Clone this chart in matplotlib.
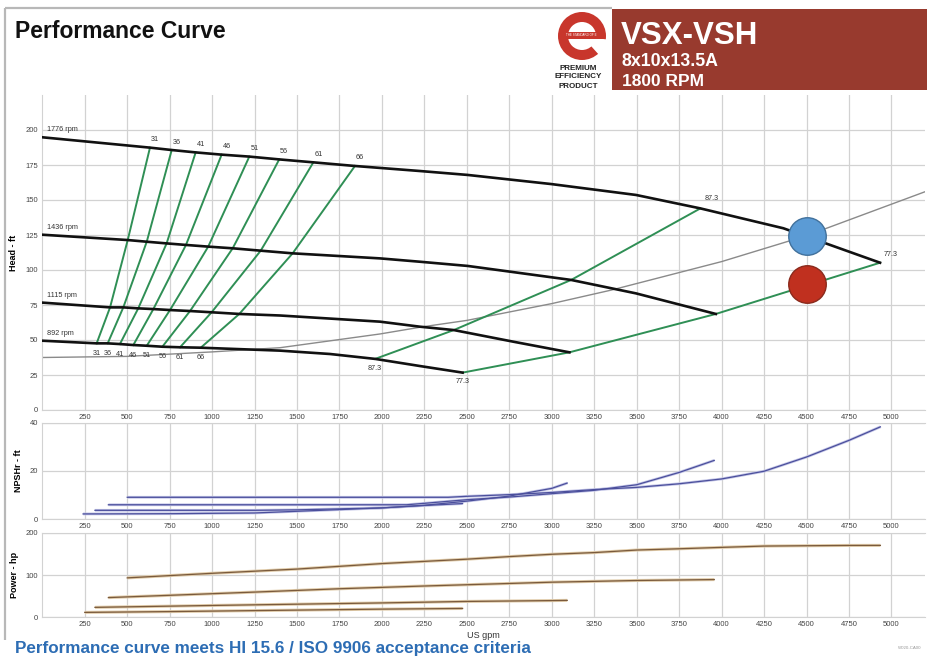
import matplotlib
matplotlib.use("Agg")
import matplotlib.pyplot as plt
from matplotlib.patches import Circle, Rectangle, Wedge

plt.rcParams['font.family'] = ['Liberation Sans', 'DejaVu Sans']

# ---------------- head / capacity curves (US gpm, ft) ----------------
speed_labels = ["1776 rpm", "1436 rpm", "1115 rpm", "892 rpm"]

q_1776 = [0, 634, 762, 903, 1056, 1219, 1395, 1596, 1841, 2224, 2505, 2996, 3496, 3875, 4364, 4933]
h_1776 = [194.8, 187.4, 185.7, 184.0, 182.4, 181.0, 179.0, 176.9, 174.3, 170.7, 167.9, 161.4, 153.6, 144.0, 129.8, 105.2]

q_1436 = [0, 503, 615, 732, 846, 977, 1121, 1286, 1474, 1988, 2224, 2505, 3114, 3496, 3966]
h_1436 = [125.2, 121.4, 120.2, 119.0, 117.9, 116.7, 115.5, 113.8, 111.9, 108.3, 105.9, 102.9, 92.9, 83.3, 68.6]

q_1115 = [0, 399, 477, 565, 654, 752, 870, 997, 1160, 1400, 1988, 2224, 2423, 2773, 3104]
h_1115 = [76.7, 73.3, 73.3, 72.6, 72.1, 71.4, 70.7, 69.8, 68.6, 67.5, 63.1, 59.5, 57.1, 48.8, 41.2]

q_892 = [0, 320, 385, 457, 536, 615, 707, 811, 933, 1400, 1694, 1960, 2224, 2475]
h_892 = [49.5, 47.6, 47.6, 47.1, 46.4, 45.9, 45.2, 44.8, 44.5, 42.4, 40.0, 36.5, 31.4, 26.7]

# iso-efficiency lines: points on the 892, 1115, 1436 and 1776 rpm curves
eff_labels = ["31", "36", "41", "46", "51", "56", "61", "66"]
eff_q = [
    [320, 399, 503, 634],
    [385, 477, 615, 762],
    [457, 565, 732, 903],
    [536, 654, 846, 1056],
    [615, 752, 977, 1219],
    [707, 870, 1121, 1395],
    [811, 997, 1286, 1596],
    [933, 1160, 1474, 1841],
]
eff_h = [
    [47.6, 73.3, 121.4, 187.4],
    [47.6, 73.3, 120.2, 185.7],
    [47.1, 72.6, 119.0, 184.0],
    [46.4, 72.1, 117.9, 182.4],
    [45.9, 71.4, 116.7, 181.0],
    [45.2, 70.7, 115.5, 179.0],
    [44.8, 69.8, 113.8, 176.9],
    [44.5, 68.6, 111.9, 174.3],
]

# best-efficiency line (87.3 %) and end-of-curve line (77.3 %)
bep_label = "87.3"
bep_q = [1960, 2423, 3114, 3875]
bep_h = [36.5, 57.1, 92.9, 144.0]
eoc_label = "77.3"
eoc_q = [2475, 3104, 3966, 4933]
eoc_h = [26.7, 41.2, 68.6, 105.2]

# system curve
sys_q = [0, 500, 1000, 1400, 1988, 2243, 2500, 3000, 3352, 4000, 4500, 5200]
sys_h = [37.5, 38.3, 41.5, 44.5, 54.3, 59.5, 64.0, 76.0, 85.7, 106.0, 124.5, 156.0]

# duty points
duty_q = [4500, 4500]
duty_h = [124.5, 90.0]
duty_face = ["#5b9bd5", "#c0301f"]
duty_edge = ["#41719c", "#8a2a1c"]

# ---------------- NPSHr (ft) ----------------
npsh_q = [
    [500, 2390, 2500, 2750, 3000, 3250, 3500, 3750, 4000, 4250, 4500, 4750, 4935],
    [389, 2145, 2250, 2500, 2750, 3000, 3250, 3500, 3750, 3957],
    [310, 1250, 1500, 2000, 2250, 2500, 2750, 3000, 3091],
    [240, 750, 1250, 1500, 2000, 2250, 2475],
]
npsh_v = [
    [9.0, 9.0, 9.4, 10.1, 11.0, 12.2, 13.1, 14.6, 16.6, 19.8, 25.7, 32.6, 38.2],
    [5.9, 5.9, 6.5, 8.0, 9.1, 10.5, 11.9, 14.2, 19.3, 24.3],
    [3.6, 3.6, 3.8, 4.6, 5.7, 7.4, 9.5, 12.7, 14.9],
    [2.1, 2.2, 2.5, 3.2, 4.6, 5.6, 6.4],
]

# ---------------- power (hp) ----------------
pow_q = [
    [500, 1000, 1500, 2000, 2500, 2750, 3000, 3250, 3500, 3750, 4000, 4250, 4500, 4750, 4935],
    [389, 750, 1250, 1750, 2250, 2500, 3000, 3500, 3957],
    [310, 1000, 1500, 2000, 2500, 3000, 3091],
    [250, 750, 1500, 2000, 2475],
]
pow_v = [
    [93.2, 104, 114, 127, 137.4, 143.5, 149, 153, 159, 162, 165.3, 168.4, 169.2, 169.9, 170],
    [46.6, 52, 59.6, 67.5, 74, 77, 83, 87, 89.2],
    [23.5, 28, 31, 34, 37.5, 39.5, 40],
    [11.6, 13.5, 17, 19.3, 20.9],
]

x_ticks = list(range(250, 5001, 250))

W, H = 927, 656
fig = plt.figure(figsize=(W / 100, H / 100), dpi=100)
fig.patch.set_facecolor("white")

X0, XR = 42.3, 925.4      # pixel extent of the plotting area
QMAX = 5200


def axes_px(top, bottom):
    return fig.add_axes([X0 / W, (H - bottom) / H, (XR - X0) / W, (bottom - top) / H])


# overlay in pixel coordinates for header, frame and footer
ov = fig.add_axes([0, 0, 1, 1])
ov.set_xlim(0, W)
ov.set_ylim(H, 0)
ov.axis("off")

ov.plot([5, 612], [8, 8], color="#b8b8b8", lw=1.6, solid_capstyle="butt")
ov.plot([5, 5], [8, 640], color="#b8b8b8", lw=1.6, solid_capstyle="butt")

ov.text(15, 31, "Performance Curve", fontsize=16.5, fontweight="bold", color="#111111",
        ha="left", va="center")

ov.add_patch(Rectangle((612, 9), 315, 81, facecolor="#983a2e", edgecolor="none"))
ov.text(621, 36, "VSX-VSH", fontsize=22.5, fontweight="bold", color="white", ha="left", va="center")
ov.text(622, 62, "8x10x13.5A", fontsize=12.8, fontweight="bold", color="white", ha="left", va="center")
ov.text(622, 82, "1800 RPM", fontsize=12.5, fontweight="bold", color="white", ha="left", va="center")

# logo
cx, cy = 582, 36
ov.add_patch(Circle((cx, cy), 24, facecolor="#c8362c", edgecolor="none"))
ov.add_patch(Circle((cx, cy), 14, facecolor="white", edgecolor="none"))
ov.add_patch(Wedge((cx, cy), 25, 8, 48, facecolor="white", edgecolor="none"))
ov.add_patch(Rectangle((cx - 23, cy - 4), 46, 7, facecolor="#c8362c", edgecolor="none"))
ov.text(cx - 1, cy - 0.5, "THE STANDARD OF E", fontsize=2.2, color="white", ha="center", va="center")
for i, word in enumerate(["PREMIUM", "EFFICIENCY", "PRODUCT"]):
    ov.text(578, 68 + 9 * i, word, fontsize=5.8, fontweight="bold", color="#222222",
            ha="center", va="center")

ov.text(15, 648, "Performance curve meets HI 15.6 / ISO 9906 acceptance criteria",
        fontsize=12.3, fontweight="bold", color="#2d6db4", ha="left", va="center")
ov.text(910, 648, "W020-CA00", fontsize=3.2, color="#999999", ha="center", va="center")

grid_c = "#d2d2d2"


def style(ax, ymax, yticks, top_spine):
    ax.set_xlim(0, QMAX)
    ax.set_ylim(0, ymax)
    ax.set_xticks(x_ticks)
    ax.set_yticks(yticks)
    ax.grid(True, color=grid_c, lw=0.9)
    ax.set_axisbelow(True)
    ax.tick_params(length=0, labelsize=5.5, labelcolor="#444444", pad=3)
    for s in ["left", "bottom", "right"]:
        ax.spines[s].set_color(grid_c)
    ax.spines["right"].set_visible(False)
    ax.spines["top"].set_visible(top_spine)
    ax.spines["top"].set_color(grid_c)
    ax.set_facecolor("none")


# ---------------- head axes ----------------
axh = axes_px(95, 410)
style(axh, 225, list(range(0, 201, 25)), False)
axh.set_ylabel("Head - ft", fontsize=6.5, fontweight="bold", labelpad=5)

axh.plot(sys_q, sys_h, color="#8a8a8a", lw=1.0, zorder=2)

for q, h in zip(eff_q, eff_h):
    axh.plot(q, h, color="#2f8f55", lw=1.4, zorder=3)
axh.plot(bep_q, bep_h, color="#2f8f55", lw=1.4, zorder=3)
axh.plot(eoc_q, eoc_h, color="#2f8f55", lw=1.4, zorder=3)

curves = [(q_1776, h_1776), (q_1436, h_1436), (q_1115, h_1115), (q_892, h_892)]
for (q, h), lab in zip(curves, speed_labels):
    axh.plot(q, h, color="#111111", lw=1.9, zorder=4)
    axh.annotate(lab, (q[0], h[0]), xytext=(5, 4), textcoords="offset pixels",
                 fontsize=5.2, color="#333333", ha="left", va="bottom")

for lab, q, h in zip(eff_labels, eff_q, eff_h):
    axh.annotate(lab, (q[-1], h[-1]), xytext=(5, 8), textcoords="offset pixels",
                 fontsize=5.2, color="#333333", ha="center", va="center")
    axh.annotate(lab, (q[0], h[0]), xytext=(0, -10), textcoords="offset pixels",
                 fontsize=5.2, color="#333333", ha="center", va="center")

axh.annotate(bep_label, (bep_q[-1], bep_h[-1]), xytext=(11, 10), textcoords="offset pixels",
             fontsize=5.2, color="#333333", ha="center", va="center")
axh.annotate(bep_label, (bep_q[0], bep_h[0]), xytext=(0, -10), textcoords="offset pixels",
             fontsize=5.2, color="#333333", ha="center", va="center")
axh.annotate(eoc_label, (eoc_q[-1], eoc_h[-1]), xytext=(11, 8), textcoords="offset pixels",
             fontsize=5.2, color="#333333", ha="center", va="center")
axh.annotate(eoc_label, (eoc_q[0], eoc_h[0]), xytext=(0, -9), textcoords="offset pixels",
             fontsize=5.2, color="#333333", ha="center", va="center")

for q, h, fc, ec in zip(duty_q, duty_h, duty_face, duty_edge):
    axh.plot([q], [h], marker="o", ms=27, mfc=fc, mec=ec, mew=1.0, zorder=6)

# ---------------- NPSHr axes ----------------
axn = axes_px(422.5, 519)
style(axn, 40, [0, 20, 40], True)
axn.set_ylabel("NPSHr - ft", fontsize=6.5, fontweight="bold", labelpad=5)
for q, v in zip(npsh_q, npsh_v):
    axn.plot(q, v, color="#c3c5e6", lw=2.0, zorder=2, solid_capstyle="butt")
    axn.plot(q, v, color="#4b4f9c", lw=0.9, zorder=3)

# ---------------- power axes ----------------
axp = axes_px(532.7, 617.3)
style(axp, 200, [0, 100, 200], True)
axp.set_ylabel("Power - hp", fontsize=6.5, fontweight="bold", labelpad=5)
axp.set_xlabel("US gpm", fontsize=6.5, color="#333333", labelpad=2)
for q, v in zip(pow_q, pow_v):
    axp.plot(q, v, color="#e0cba9", lw=2.2, zorder=2, solid_capstyle="butt")
    axp.plot(q, v, color="#7a5a3c", lw=0.9, zorder=3)

fig.savefig("out.png", dpi=100)
